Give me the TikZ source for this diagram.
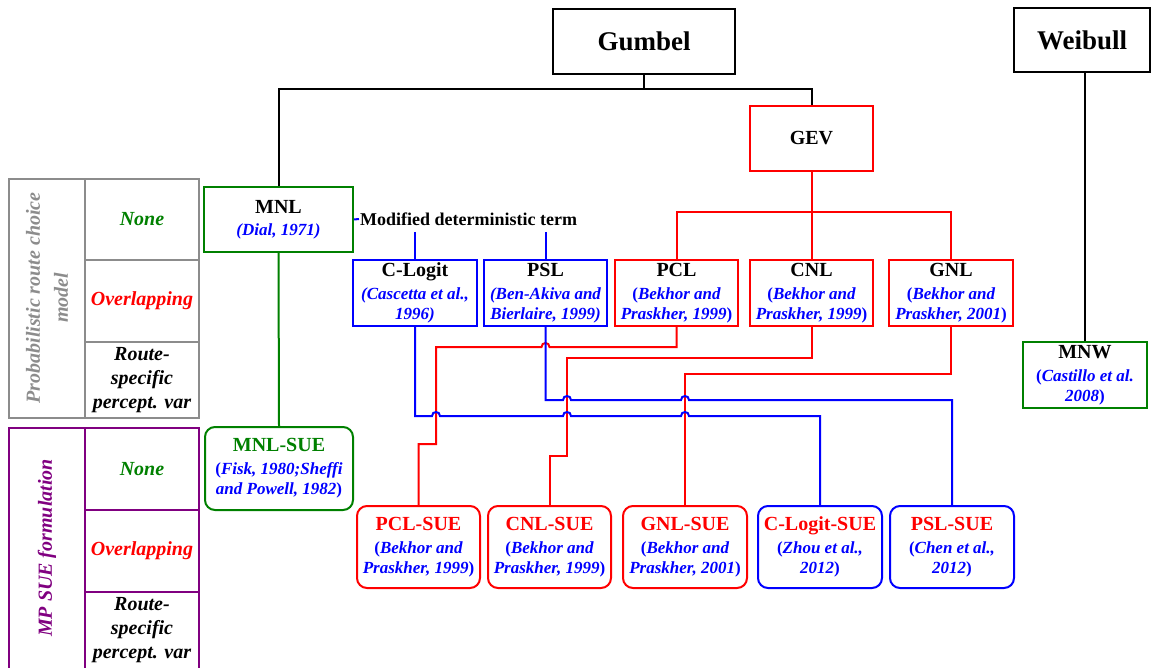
\documentclass[tikz,border=0pt]{standalone}
\usepackage{fontspec}
\setmainfont{Liberation Serif}
\definecolor{cred}{RGB}{255,0,0}
\definecolor{cblue}{RGB}{0,0,255}
\definecolor{cgreen}{RGB}{0,128,0}
\definecolor{cpurple}{RGB}{128,0,128}
\definecolor{cgray}{RGB}{140,140,140}
\newcommand\ttl[2][black]{{\fontsize{20}{23}\selectfont\upshape\bfseries\color{#1}#2}}
\newcommand\up[1]{{\upshape#1}}

\begin{document}
\begin{tikzpicture}[x=1pt,y=-1pt,
  box/.style={draw,line width=2pt,inner sep=0pt,align=center,minimum height=65pt,
    font=\fontsize{17}{20}\selectfont\bfseries\itshape,text=cblue},
  sue/.style={box,rounded corners=10pt,minimum height=82pt},
  head/.style={draw,line width=2pt,inner sep=0pt,minimum height=65pt,font=\fontsize{27}{30}\selectfont\bfseries},
  link/.style={line width=2pt},
  cell/.style={font=\fontsize{20}{24}\selectfont\bfseries\itshape,align=center,inner sep=0pt}
]
\useasboundingbox (0,0) rectangle (1153,668);

% ---- classification table (left) ----
\draw[cgray,line width=2pt] (9,179) rectangle (199,418);
\draw[cgray,line width=2pt] (85,179) -- (85,418) (85,260) -- (199,260) (85,342) -- (199,342);
\draw[cpurple,line width=2pt] (9,669) -- (9,428) -- (199,428) -- (199,669)
  (85,428) -- (85,669) (85,510) -- (199,510) (85,592) -- (199,592);

\node[cell,rotate=90,text=cgray,font=\fontsize{20}{28}\selectfont\bfseries\itshape] (tabA) at (47,298) {Probabilistic route choice\\model};
\node[cell,text=cgreen] (noneA) at (142,219.5) {None};
\node[cell,text=cred] (ovA) at (142,301) {Overlapping};
\node[cell] (rsA) at (142,380) {Route-\\specific\\percept. var};

\node[cell,rotate=90,text=cpurple] (tabB) at (47,548) {MP SUE formulation};
\node[cell,text=cgreen] (noneB) at (142,469) {None};
\node[cell,text=cred] (ovB) at (142,551) {Overlapping};
\node[cell] (rsB) at (142,630) {Route-\\specific\\percept. var};

% ---- distributions ----
\node[head,minimum width=182pt] (gumbel) at (644,41.5) {Gumbel};
\node[head,minimum width=136pt,minimum height=64pt] (weibull) at (1082,40) {Weibull};
\node[head,draw=cred,minimum width=123pt,font=\fontsize{20}{23}\selectfont\bfseries] (gev) at (811.5,138.5) {GEV};

% ---- route choice models ----
\node[box,draw=cgreen,minimum width=149pt] (mnl) at (278.5,219.5) {\ttl{MNL}\\[2pt](Dial, 1971)};
\node[anchor=west,inner sep=1pt,font=\fontsize{18}{20}\selectfont\bfseries] (mdt) at (359,219) {Modified deterministic term};

\node[box,draw=cblue,minimum width=124pt,minimum height=66pt] (clogit) at (415,293) {\ttl{C-Logit}\\[3pt](Cascetta et al.,\\1996)};
\node[box,draw=cblue,minimum width=123pt,minimum height=66pt] (psl) at (545.5,293) {\ttl{PSL}\\[3pt](Ben-Akiva and\\Bierlaire, 1999)};
\node[box,draw=cred,minimum width=123pt,minimum height=66pt] (pcl) at (676.5,293) {\ttl{PCL}\\[3pt]\up{(}Bekhor and\\Praskher, 1999\up{)}};
\node[box,draw=cred,minimum width=123pt,minimum height=66pt] (cnl) at (811.5,293) {\ttl{CNL}\\[3pt]\up{(}Bekhor and\\Praskher, 1999\up{)}};
\node[box,draw=cred,minimum width=124pt,minimum height=66pt] (gnl) at (951,293) {\ttl{GNL}\\[3pt]\up{(}Bekhor and\\Praskher, 2001\up{)}};
\node[box,draw=cgreen,minimum width=124pt,minimum height=66pt] (mnw) at (1085,375) {\ttl{MNW}\\[3pt]\up{(}Castillo et al.\\2008\up{)}};

% ---- SUE formulations ----
\node[sue,draw=cgreen,minimum width=148pt,minimum height=83pt] (mnlsue) at (279,468.5) {\ttl[cgreen]{MNL-SUE}\\[3pt]\up{(}Fisk, 1980;Sheffi\\and Powell, 1982\up{)}};
\node[sue,draw=cred,minimum width=123pt] (pclsue) at (418.5,547) {\ttl[cred]{PCL-SUE}\\[3pt]\up{(}Bekhor and\\Praskher, 1999\up{)}};
\node[sue,draw=cred,minimum width=123pt] (cnlsue) at (549.5,547) {\ttl[cred]{CNL-SUE}\\[3pt]\up{(}Bekhor and\\Praskher, 1999\up{)}};
\node[sue,draw=cred,minimum width=124pt] (gnlsue) at (685,547) {\ttl[cred]{GNL-SUE}\\[3pt]\up{(}Bekhor and\\Praskher, 2001\up{)}};
\node[sue,draw=cblue,minimum width=124pt] (clogitsue) at (820,547) {\ttl[cred]{C-Logit-SUE}\\[3pt]\up{(}Zhou et al.,\\2012\up{)}};
\node[sue,draw=cblue,minimum width=124pt] (pslsue) at (952,547) {\ttl[cred]{PSL-SUE}\\[3pt]\up{(}Chen et al.,\\2012\up{)}};

% ---- black tree ----
\coordinate (gj) at (644,89);
\draw[link] (gumbel.south) -- (gj);
\draw[link] (mnl.north) |- (gj) -| (gev.north);
\draw[link] (mnw.north) -- (mnw.north |- weibull.south);

% ---- green ----
\draw[link,cgreen] (mnl.south) -- (mnlsue.north);

% ---- modified deterministic term ----
\coordinate (mdtA) at (415,232);
\coordinate (mdtB) at (545.5,232);
\draw[link,cblue] (mnl.east) -- (mdt.west);
\draw[link,cblue] (mdtA) -- (clogit.north);
\draw[link,cblue] (mdtB) -- (psl.north);

% ---- GEV family ----
\coordinate (gevj) at (811.5,212);
\draw[link,cred] (gev.south) -- (cnl.north);
\draw[link,cred] (pcl.north) |- (gevj) -| (gnl.north);

\draw[link,cred] (pcl.south) -- (676.5,347) -- (549.5,347)
  .. controls (549.5,341.7) and (541.5,341.7) .. (541.5,347)
  -- (436,347) -- (436,444) -- (418.5,444) -- (pclsue.north);
\draw[link,cred] (cnl.south) -- (811.5,358) -- (567,358) -- (567,456) -- (549.5,456) -- (cnlsue.north);
\draw[link,cred] (gnl.south) -- (951,374) -- (685,374) -- (gnlsue.north);

% ---- path-size / commonality links (hop over red lines) ----
\draw[link,cblue] (psl.south) -- (545.5,400) -- (563,400)
  .. controls (563,394.7) and (571,394.7) .. (571,400) -- (681,400)
  .. controls (681,394.7) and (689,394.7) .. (689,400)
  -- (952,400) -- (pslsue.north);
\draw[link,cblue] (clogit.south) -- (415,416) -- (432,416)
  .. controls (432,410.7) and (440,410.7) .. (440,416) -- (563,416)
  .. controls (563,410.7) and (571,410.7) .. (571,416) -- (681,416)
  .. controls (681,410.7) and (689,410.7) .. (689,416)
  -- (820,416) -- (clogitsue.north);
\end{tikzpicture}
\end{document}
